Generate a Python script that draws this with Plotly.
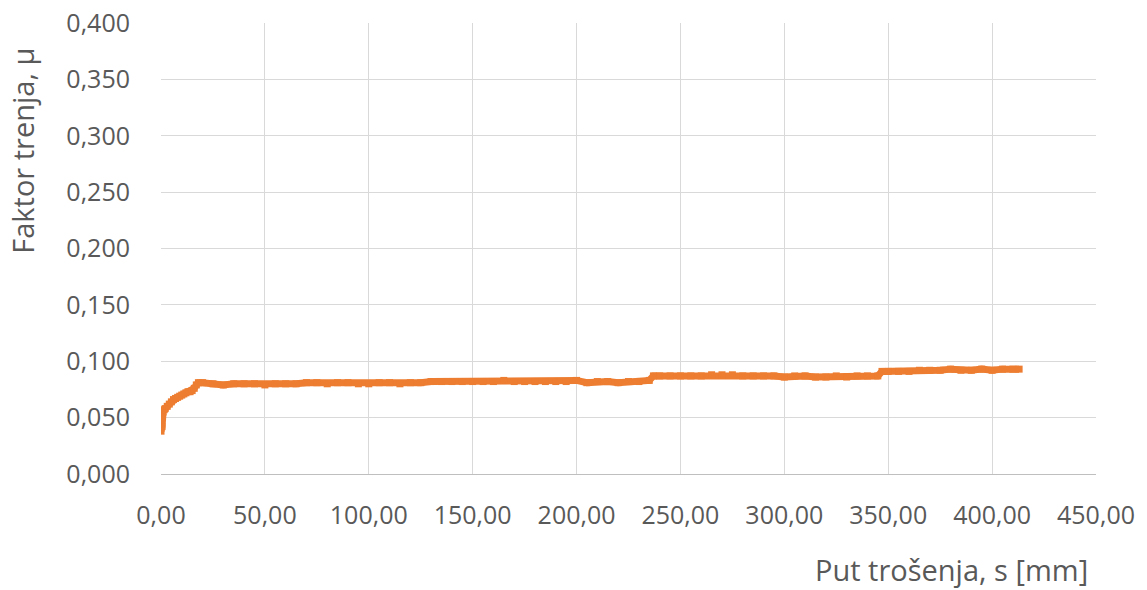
import plotly.graph_objects as go

# Wear path s [mm]
s_mm = [0, 0.5, 1, 1.5, 2, 3, 4, 5, 6, 7, 8, 9, 10, 11, 12, 13, 14, 15, 16, 17, 18, 20,
        25, 30, 35, 40, 45, 50, 55, 60, 65, 70, 75, 80, 85, 90, 95, 100, 105, 110, 115, 120,
        125, 130, 135, 140, 145, 150, 155, 160, 165, 170, 175, 180, 185, 190, 195, 200, 205,
        210, 215, 220, 225, 230, 235, 237, 240, 245, 250, 255, 260, 265, 270, 275, 280, 285,
        290, 295, 300, 305, 310, 315, 320, 325, 330, 335, 340, 345, 347, 350, 355, 360, 365,
        370, 375, 380, 385, 390, 395, 400, 405, 410, 413]
# Friction factor mu
mu = [0.038, 0.042, 0.055, 0.057, 0.058, 0.060, 0.062, 0.064, 0.066, 0.067, 0.068, 0.069,
      0.070, 0.071, 0.072, 0.073, 0.073, 0.074, 0.076, 0.079, 0.081, 0.081,
      0.080, 0.079, 0.080, 0.080, 0.080, 0.079, 0.080, 0.080, 0.080, 0.081, 0.081, 0.080,
      0.081, 0.081, 0.080, 0.080, 0.081, 0.081, 0.080, 0.081,
      0.081, 0.082, 0.082, 0.082, 0.082, 0.082, 0.082, 0.082, 0.083, 0.082, 0.082, 0.082,
      0.082, 0.082, 0.082, 0.083, 0.081, 0.082, 0.082, 0.081, 0.082, 0.082, 0.083,
      0.087, 0.087, 0.087, 0.087, 0.087, 0.087, 0.088, 0.088, 0.088, 0.087, 0.087,
      0.087, 0.087, 0.086, 0.087, 0.087, 0.086, 0.086, 0.087, 0.086, 0.087, 0.087, 0.087,
      0.091, 0.091, 0.091, 0.091, 0.092, 0.092, 0.092, 0.093, 0.092, 0.092, 0.093, 0.092,
      0.093, 0.093, 0.093]

x_ticks = [0, 50, 100, 150, 200, 250, 300, 350, 400, 450]
x_tick_labels = ["0,00", "50,00", "100,00", "150,00", "200,00", "250,00", "300,00",
                 "350,00", "400,00", "450,00"]
y_ticks = [0, 0.05, 0.1, 0.15, 0.2, 0.25, 0.3, 0.35, 0.4]
y_tick_labels = ["0,000", "0,050", "0,100", "0,150", "0,200", "0,250", "0,300",
                 "0,350", "0,400"]

orange = "#ED7D31"
gray_text = "#595959"
grid = "#D9D9D9"
font_family = "Open Sans"

fig = go.Figure()
fig.add_trace(go.Scatter(
    x=s_mm, y=mu, mode="lines+markers",
    line=dict(color=orange, width=7),
    marker=dict(color=orange, size=7, symbol="square"),
    showlegend=False,
))

fig.update_layout(
    width=1147, height=590,
    paper_bgcolor="white", plot_bgcolor="white",
    margin=dict(l=161, r=51, t=23, b=116),
    font=dict(family=font_family, color=gray_text, size=25),
    xaxis=dict(
        range=[0, 450], tickmode="array", tickvals=x_ticks, ticktext=x_tick_labels,
        showgrid=True, gridcolor=grid, gridwidth=1, zeroline=False,
        showline=True, linecolor="#BFBFBF", linewidth=1,
        ticks="", ticklabelstandoff=19, automargin=False,
        tickfont=dict(size=25, color=gray_text),
    ),
    yaxis=dict(
        range=[0, 0.4], tickmode="array", tickvals=y_ticks, ticktext=y_tick_labels,
        showgrid=True, gridcolor=grid, gridwidth=1, zeroline=False,
        showline=False, ticks="", ticklabelstandoff=30, automargin=False,
        tickfont=dict(size=25, color=gray_text),
    ),
    annotations=[
        dict(text="Faktor trenja, μ", xref="paper", yref="paper",
             x=-0.149, y=0.716, xanchor="center", yanchor="middle",
             textangle=-90, showarrow=False,
             font=dict(size=29, color=gray_text, family=font_family)),
        dict(text="Put trošenja, s [mm]", xref="paper", yref="paper",
             x=0.9936, y=-0.211, xanchor="right", yanchor="middle",
             showarrow=False,
             font=dict(size=29, color=gray_text, family=font_family)),
    ],
)

fig.write_html("out.html", config={"displayModeBar": False},
               post_script="document.body.style.margin='0';")
